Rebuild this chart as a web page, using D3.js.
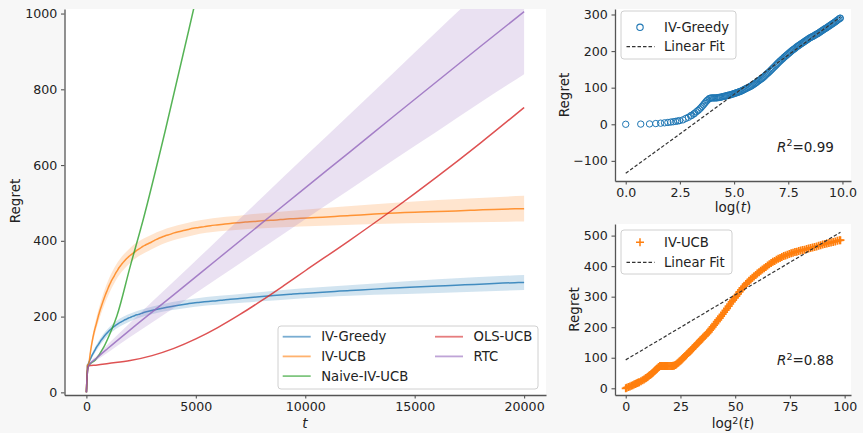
<!DOCTYPE html>
<html lang="en">
<head>
<meta charset="UTF-8" />
<title>Regret comparison</title>
<style>
  body { margin: 0; background: #f7f7f7; }
  svg { display: block; font-family: "DejaVu Sans", sans-serif; }
</style>
</head>
<body>
<div id="chart"></div>
<script src="https://d3js.org/d3.v7.min.js"></script>
<script>
  const tGrid = [1,2,3,4,5,6,7,8,9,10,11,12,14,16,18,
    20,21,23,24,26,28,30,32,34,36,38,40,42,44,47,49,52,55,58,61,
    65,68,72,76,80,85,90,95,100,105,110,116,122,128,135,142,150,157,165,173,
    182,191,200,211,222,233,245,257,270,285,300,315,330,347,365,385,405,427,450,472,
    495,520,545,572,600,632,665,700,735,775,815,857,900,950,
    1000,1050,1100,1160,1220,1280,1350,1420,1490,1570,1650,1730,1820,1910,2010,2110,
    2220,2330,2450,2570,2700,2840,2980,3130,3290,3460,3630,3820,4010,4210,4430,4650,
    4890,5130,5390,5670,5960,6260,6580,6910,7260,7630,8020,8430,8860,9310,9780,10280,
    10800,11350,11930,12530,13170,13840,14540,15280,16060,16880,17730,18630,19580,20000];

  const greedyRegret = [0,0.5,1,2,3,4,5,6,7,8,9,10,12,16,19,
    23,24.5,28,30,34,37.5,41,45,49,53,57,60.5,64,66.5,70,71,72,72,72,72,
    72,72.5,73,73.5,74,75,76,76.5,77,78,79,79.5,80,81,82,83,84,85,86,87,
    88,89,90,91.5,93,94.5,96,97.5,99,100.5,102,103.5,105,107,109,111,113,115.5,118,120,
    122,124,126,128.5,131,134,137,139.5,142,145,148,151,154,157,
    160,163,166,169,172,174.5,177.5,180,183,185.5,188,190.5,193,195.5,198,200.5,
    203,205,207,209.5,212,214,216,218,220,222,224,226,228,230,232,234,
    236,237.5,239,240.5,242,244,246,247,249,251,253,255,257,259,261,262.5,
    264.5,266.5,268.5,270.5,272.5,274.5,276.5,278.5,280.5,283,285,287.5,289.5,290];

  const ucbRegret = [0,2,4,6,8,10,12,14,16,17,19,20,23,26,29,
    32,33.5,36,38,41,43.5,46,48.5,51,54,57,59.5,62,64.5,68,70,73,73,73,73,
    73,73,73,73,73,73,73,73,73,73.5,74,76,78,81,84,87.5,91,94.5,98,101.5,
    105,108.5,112,116,120,124,128,132,136,140.5,145,149,153,157.5,162,166.5,171,175.5,180,185,
    190,195.5,201,206.5,212,218,224,230,236,242.5,249,255.5,262,269,
    276,283,289,296,302,308,316,322,329,335,341,346,352,357,362,366,
    371,376,380,385,389,393,397,402,406,410,414,417,421,424,427,430,
    433,435,437.5,440,442,444,446,447.5,449.5,451,453,454,456,458,459.5,461,
    462.5,464.5,466.5,468.5,470.5,472.5,474.5,476,477.5,479,481,483,484.5,485];

  // spread of the two IV methods, read at a coarser set of rounds
  const bandT = [1,20,47,110,165,245,365,545,735,1000,1350,2010,2980,4890,7260,9780,13170,16060,20000];
  const greedySd = [0,1,2,4,5,6,7,8,9,9,10,10,10,11,12,13,15,18,20];
  const ucbSd = [0,2,3,5,8,10,13,16,18,20,20,20,19,18,19,22,26,30,34];

  const naiveT = [0,20,50,100,400,800,1100,1400,2000,2600,3600,4900,6000,10000,20000];
  const naiveRegret = [0,30,55,70,85,120,158,203,332,457,690,1012,1290,2330,4950];

  const olsT = [0,20,50,100,500,1000,2000,3000,4000,5000,6000,7000,8000,9000,10000,12000,14000,16000,18000,20000];
  const olsRegret = [0,30,55,70,72,76,84,97,116,141,171,205,242,281,321,400,482,568,658,752];

  const rtcT = [0,20,50,100,500,1000,2000,4000,6000,8000,10000,12000,14000,16000,18000,20000];
  const rtcRegret = [0,30,55,70,92,117,165,258,352,446,540,633,727,820,913,1005];
  const rtcSd = [0,0,1,2,6,11,19,35,51,67,83,99,115,132,148,165];

  const mainXTicks = [0,5000,10000,15000,20000];
  const mainYTicks = [0,200,400,600,800,1000];
  const logXTicks = [0,2.5,5,7.5,10];
  const logYTicks = [-100,0,100,200,300];
  const log2XTicks = [0,25,50,75,100];
  const log2YTicks = [0,100,200,300,400,500];

  // linear fits [intercept, slope] and their R^2
  const greedyFit = [-134, 43.1];
  const greedyR2 = "0.99";
  const ucbFit = [93, 4.26];
  const ucbR2 = "0.88";

  const C = { blue: "#1f77b4", orange: "#ff7f0e", green: "#2ca02c", red: "#d62728", purple: "#9467bd" };

  const svg = d3.select("#chart").append("svg").attr("width", 863).attr("height", 433);
  svg.append("rect").attr("width", 863).attr("height", 433).attr("fill", "#f7f7f7");

  function styleAxis(g, size) {
    g.attr("font-family", null).attr("font-size", null);
    g.select(".domain").attr("stroke", "#555").attr("stroke-width", 1.3);
    g.selectAll(".tick line").attr("stroke", "#555").attr("stroke-width", 1.1);
    g.selectAll(".tick text").attr("fill", "#222").attr("font-size", size);
  }

  function frame(x, y, xTicks, yTicks, xFmt, yFmt) {
    const [x0, x1] = x.range(), [y0, y1] = y.range();
    svg.append("rect").attr("x", x0).attr("y", y1).attr("width", x1 - x0).attr("height", y0 - y1).attr("fill", "#fff");
    svg.append("g").attr("transform", `translate(0,${y0})`)
      .call(d3.axisBottom(x).tickValues(xTicks).tickFormat(xFmt).tickSize(3.5).tickSizeOuter(0).tickPadding(3.5))
      .call(g => styleAxis(g, 12.6));
    svg.append("g").attr("transform", `translate(${x0},0)`)
      .call(d3.axisLeft(y).tickValues(yTicks).tickFormat(yFmt).tickSize(3.5).tickSizeOuter(0).tickPadding(3.7))
      .call(g => styleAxis(g, 12.6));
  }

  function yLabel(px, py) {
    svg.append("text").attr("transform", `translate(${px},${py}) rotate(-90)`)
      .attr("text-anchor", "middle").attr("font-size", 13.5).attr("fill", "#222").text("Regret");
  }

  // ---------- main panel ----------
  const x = d3.scaleLinear().domain([-1000, 21000]).range([64.5, 546]);
  const y = d3.scaleLinear().domain([-7, 1012]).range([395, 9]);
  frame(x, y, mainXTicks, mainYTicks, d3.format("d"), d3.format("d"));

  svg.append("clipPath").attr("id", "clipMain").append("rect")
    .attr("x", 64.5).attr("y", 9).attr("width", 546 - 64.5).attr("height", 386);
  const plot = svg.append("g").attr("clip-path", "url(#clipMain)");

  const line = d3.line().x(d => x(d[0])).y(d => y(d[1])).curve(d3.curveMonotoneX);
  const area = d3.area().x(d => x(d[0])).y0(d => y(d[1])).y1(d => y(d[2])).curve(d3.curveMonotoneX);

  const bandFrom = (vals, sd) => bandT.map((t, i) => {
    const m = vals[tGrid.indexOf(t)];
    return [t, m - sd[i], m + sd[i]];
  });

  const series = [
    { name: "IV-Greedy", color: C.blue, pts: tGrid.map((t, i) => [t, greedyRegret[i]]), band: bandFrom(greedyRegret, greedySd) },
    { name: "IV-UCB", color: C.orange, pts: tGrid.map((t, i) => [t, ucbRegret[i]]), band: bandFrom(ucbRegret, ucbSd) },
    { name: "Naive-IV-UCB", color: C.green, pts: naiveT.map((t, i) => [t, naiveRegret[i]]), band: null },
    { name: "OLS-UCB", color: C.red, pts: olsT.map((t, i) => [t, olsRegret[i]]), band: null },
    { name: "RTC", color: C.purple, pts: rtcT.map((t, i) => [t, rtcRegret[i]]), band: rtcT.map((t, i) => [t, rtcRegret[i] - rtcSd[i], rtcRegret[i] + rtcSd[i]]) }
  ];

  series.forEach(s => {
    plot.append("path").attr("d", line(s.pts)).attr("fill", "none")
      .attr("stroke", s.color).attr("stroke-width", 1.5).attr("stroke-opacity", 0.8);
    if (s.band) {
      plot.append("path").attr("d", area(s.band)).attr("fill", s.color).attr("fill-opacity", 0.2);
    }
  });

  // legend
  const leg = svg.append("g");
  leg.append("rect").attr("x", 278).attr("y", 326).attr("width", 260).attr("height", 63).attr("rx", 3)
    .attr("fill", "#fff").attr("fill-opacity", 0.85).attr("stroke", "#d0d0d0");
  series.forEach((s, i) => {
    const col = i < 3 ? 0 : 1, row = i < 3 ? i : i - 3;
    const lx = col ? 435 : 282.7, ly = 336.7 + row * 19.7;
    leg.append("line").attr("x1", lx).attr("x2", lx + 28).attr("y1", ly).attr("y2", ly)
      .attr("stroke", s.color).attr("stroke-width", 1.8).attr("stroke-opacity", 0.6);
    leg.append("text").attr("x", lx + 38.5).attr("y", ly).attr("dy", "0.35em")
      .attr("font-size", 13.2).attr("fill", "#222").text(s.name);
  });

  yLabel(20, 201);
  svg.append("text").attr("x", 305).attr("y", 427.5).attr("text-anchor", "middle")
    .attr("font-size", 13.5).attr("font-style", "italic").attr("fill", "#222").text("t");

  // ---------- top right: IV-Greedy vs log(t) ----------
  const minusFmt = d => d < 0 ? "\u2212" + Math.abs(d) : String(d);
  const x1 = d3.scaleLinear().domain([-0.495, 10.395]).range([615, 851]);
  const y1 = d3.scaleLinear().domain([-155, 315]).range([181, 9]);
  frame(x1, y1, logXTicks, logYTicks, d3.format(".1f"), minusFmt);

  svg.append("g").selectAll("circle").data(tGrid).join("circle")
    .attr("cx", t => x1(Math.log(t))).attr("cy", (t, i) => y1(greedyRegret[i])).attr("r", 3.2)
    .attr("fill", "none").attr("stroke", C.blue).attr("stroke-width", 1);

  const gEnd = Math.log(d3.max(tGrid));
  svg.append("line").attr("x1", x1(0)).attr("y1", y1(greedyFit[0]))
    .attr("x2", x1(gEnd)).attr("y2", y1(greedyFit[0] + greedyFit[1] * gEnd))
    .attr("stroke", "#333").attr("stroke-width", 1.2).attr("stroke-dasharray", "3.5,2");

  const leg1 = svg.append("g");
  leg1.append("rect").attr("x", 621).attr("y", 11).attr("width", 115).attr("height", 48).attr("rx", 3)
    .attr("fill", "#fff").attr("fill-opacity", 0.85).attr("stroke", "#d0d0d0");
  leg1.append("circle").attr("cx", 640).attr("cy", 27.3).attr("r", 3.2)
    .attr("fill", "none").attr("stroke", C.blue).attr("stroke-width", 1.1);
  leg1.append("text").attr("x", 664).attr("y", 27.3).attr("dy", "0.35em").attr("font-size", 13.2).attr("fill", "#222").text("IV-Greedy");
  leg1.append("line").attr("x1", 626.5).attr("x2", 654.5).attr("y1", 46.7).attr("y2", 46.7)
    .attr("stroke", "#333").attr("stroke-width", 1.2).attr("stroke-dasharray", "3.5,2");
  leg1.append("text").attr("x", 664).attr("y", 46.7).attr("dy", "0.35em").attr("font-size", 13.2).attr("fill", "#222").text("Linear Fit");

  function r2Text(px, py, val) {
    const t = svg.append("text").attr("x", px).attr("y", py).attr("font-size", 13.5).attr("fill", "#222");
    t.append("tspan").attr("font-style", "italic").text("R");
    t.append("tspan").attr("dy", -5.5).attr("font-size", 9.5).text("2");
    t.append("tspan").attr("dy", 5.5).text("=" + val);
  }
  r2Text(777, 151.5, greedyR2);

  yLabel(568.5, 95);
  const xl1 = svg.append("text").attr("x", 733).attr("y", 212).attr("text-anchor", "middle")
    .attr("font-size", 13.5).attr("fill", "#222");
  xl1.append("tspan").text("log(");
  xl1.append("tspan").attr("font-style", "italic").text("t");
  xl1.append("tspan").text(")");

  // ---------- bottom right: IV-UCB vs log^2(t) ----------
  const x2 = d3.scaleLinear().domain([-4.9, 102.9]).range([615, 851]);
  const y2 = d3.scaleLinear().domain([-22, 538]).range([395, 224]);
  frame(x2, y2, log2XTicks, log2YTicks, d3.format("d"), d3.format("d"));

  svg.append("g").selectAll("path").data(tGrid).join("path")
    .attr("transform", (t, i) => `translate(${x2(Math.log(t) ** 2)},${y2(ucbRegret[i])})`)
    .attr("d", "M-4,0H4M0,-4V4").attr("stroke", C.orange).attr("stroke-width", 1.7).attr("fill", "none");

  const uEnd = Math.log(d3.max(tGrid)) ** 2;
  svg.append("line").attr("x1", x2(0)).attr("y1", y2(ucbFit[0]))
    .attr("x2", x2(uEnd)).attr("y2", y2(ucbFit[0] + ucbFit[1] * uEnd))
    .attr("stroke", "#333").attr("stroke-width", 1.2).attr("stroke-dasharray", "3.5,2");

  const leg2 = svg.append("g");
  leg2.append("rect").attr("x", 621).attr("y", 230).attr("width", 111).attr("height", 44).attr("rx", 3)
    .attr("fill", "#fff").attr("fill-opacity", 0.85).attr("stroke", "#d0d0d0");
  leg2.append("path").attr("transform", "translate(640,242.3)").attr("d", "M-4,0H4M0,-4V4")
    .attr("stroke", C.orange).attr("stroke-width", 1.5);
  leg2.append("text").attr("x", 664).attr("y", 242.3).attr("dy", "0.35em").attr("font-size", 13.2).attr("fill", "#222").text("IV-UCB");
  leg2.append("line").attr("x1", 626.5).attr("x2", 654.5).attr("y1", 262.3).attr("y2", 262.3)
    .attr("stroke", "#333").attr("stroke-width", 1.2).attr("stroke-dasharray", "3.5,2");
  leg2.append("text").attr("x", 664).attr("y", 262.3).attr("dy", "0.35em").attr("font-size", 13.2).attr("fill", "#222").text("Linear Fit");

  r2Text(777, 365, ucbR2);

  yLabel(579, 309.5);
  const xl2 = svg.append("text").attr("x", 733).attr("y", 428).attr("text-anchor", "middle")
    .attr("font-size", 13.5).attr("fill", "#222");
  xl2.append("tspan").text("log");
  xl2.append("tspan").attr("dy", -4.5).attr("font-size", 9.5).text("2");
  xl2.append("tspan").attr("dy", 4.5).text("(");
  xl2.append("tspan").attr("font-style", "italic").text("t");
  xl2.append("tspan").text(")");
</script>
</body>
</html>
